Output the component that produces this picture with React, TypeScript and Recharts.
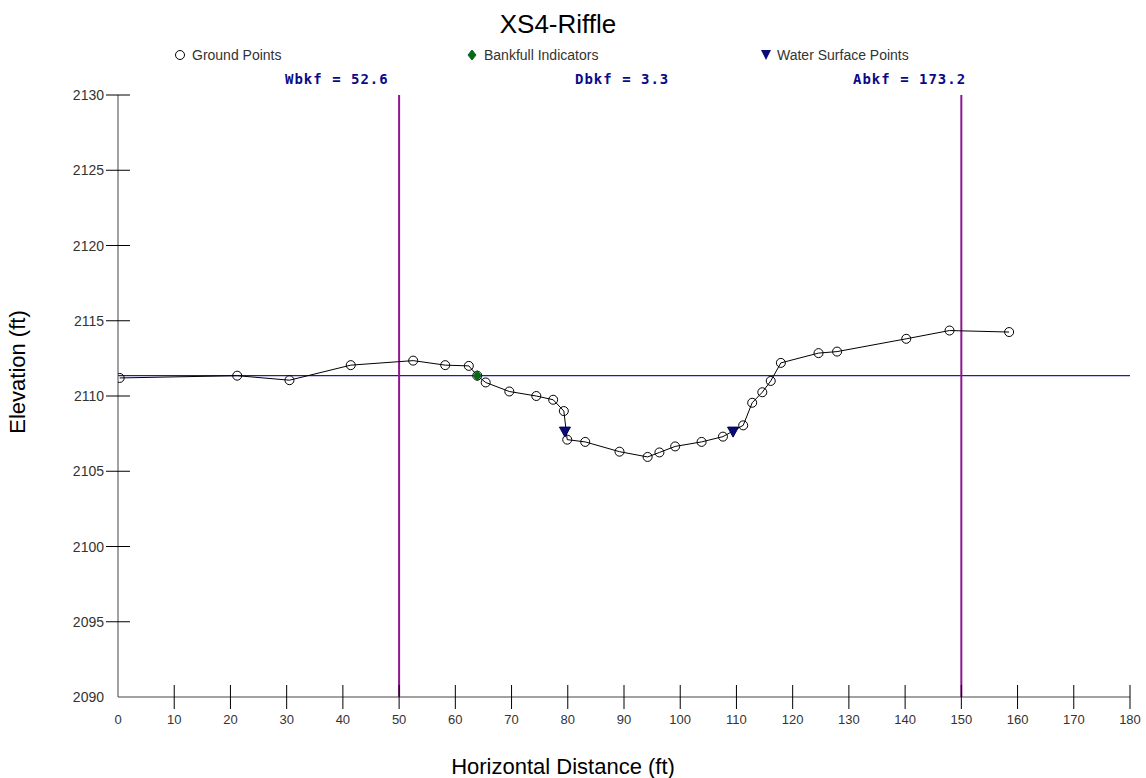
import React from 'react';
import { ComposedChart, Scatter, XAxis, YAxis, ReferenceLine } from 'recharts';

// Surveyed ground profile (station ft, elevation ft)
const groundStations = [0.3, 21.2, 30.5, 41.4, 52.5, 58.2, 62.4, 63.9, 65.4, 69.6, 74.4, 77.4, 79.3, 79.9, 83.1, 89.2, 94.2, 96.3, 99.1, 103.8, 107.6, 111.2, 112.8, 114.6, 116.1, 117.9, 124.6, 127.9, 140.2, 147.9, 158.5];
const groundElevations = [2111.2, 2111.35, 2111.05, 2112.05, 2112.35, 2112.05, 2112.0, 2111.35, 2110.9, 2110.3, 2110.0, 2109.75, 2109.0, 2107.1, 2106.95, 2106.3, 2105.95, 2106.25, 2106.65, 2106.95, 2107.3, 2108.05, 2109.55, 2110.25, 2111.0, 2112.2, 2112.85, 2112.95, 2113.8, 2114.35, 2114.25];

// Bankfull indicator
const bankfullStations = [63.9];
const bankfullElevations = [2111.35];

// Water surface shots
const waterStations = [79.5, 109.4];
const waterElevations = [2107.6, 2107.6];

const bankfullElevation = 2111.35;
const extentLines = [50, 150];

const xTicks = [0, 10, 20, 30, 40, 50, 60, 70, 80, 90, 100, 110, 120, 130, 140, 150, 160, 170, 180];
const yTicks = [2090, 2095, 2100, 2105, 2110, 2115, 2120, 2125, 2130];

const summaryLabels = ['Wbkf = 52.6', 'Dbkf = 3.3', 'Abkf = 173.2'];

const toPoints = (xs: number[], ys: number[]) => xs.map((x, i) => ({ x, y: ys[i] }));
const groundData = toPoints(groundStations, groundElevations);
const bankfullData = toPoints(bankfullStations, bankfullElevations);
const waterData = toPoints(waterStations, waterElevations);

// Layout
const W = 1146;
const H = 778;
const PLOT_LEFT = 118;
const PLOT_RIGHT = 1130;
const PLOT_TOP = 95;
const PLOT_BOTTOM = 697;
const Y_AXIS_W = 60;
const X_AXIS_H = 30;

const FONT = '"Liberation Sans", Arial, sans-serif';
const MONO = '"DejaVu Sans Mono", "Liberation Mono", monospace';
const TEXT = '#333';

// Tick marks cross the axis line; the origin tick is left out
const XTick = (props: any) => {
  const { x, payload, index } = props;
  return (
    <g>
      {index > 0 && (
        <line x1={x} x2={x} y1={PLOT_BOTTOM - 12} y2={PLOT_BOTTOM + 12} stroke="#000" strokeWidth={1} />
      )}
      <text x={x} y={PLOT_BOTTOM + 27} textAnchor="middle" fontFamily={FONT} fontSize={13} fill={TEXT}>
        {payload.value}
      </text>
    </g>
  );
};

const YTick = (props: any) => {
  const { y, payload, index } = props;
  return (
    <g>
      {index > 0 && (
        <line x1={PLOT_LEFT - 12} x2={PLOT_LEFT + 12} y1={y} y2={y} stroke="#000" strokeWidth={1} />
      )}
      <text x={PLOT_LEFT - 14} y={y + 5} textAnchor="end" fontFamily={FONT} fontSize={14} fill={TEXT}>
        {payload.value}
      </text>
    </g>
  );
};

const OpenCircle = (props: any) => (
  <circle cx={props.cx} cy={props.cy} r={4.5} fill="none" stroke="#000" strokeWidth={1} />
);

const Diamond = (props: any) => {
  const { cx, cy } = props;
  const s = 5;
  return <path d={`M${cx},${cy - s} L${cx + s * 0.8},${cy} L${cx},${cy + s} L${cx - s * 0.8},${cy} Z`} fill="#0a6b0a" stroke="#063" strokeWidth={1} />;
};

const DownTriangle = (props: any) => {
  const { cx, cy } = props;
  return <path d={`M${cx - 5.5},${cy - 5} L${cx + 5.5},${cy - 5} L${cx},${cy + 5} Z`} fill="#0a0a78" stroke="#000050" strokeWidth={1} />;
};

export default function App() {
  return (
    <div style={{ position: 'absolute', left: 0, top: 0, width: W, height: H, background: '#fff' }}>
      <ComposedChart
        width={W}
        height={H}
        margin={{ top: PLOT_TOP, right: W - PLOT_RIGHT, bottom: H - PLOT_BOTTOM - X_AXIS_H, left: PLOT_LEFT - Y_AXIS_W }}
      >
        <XAxis
          type="number"
          dataKey="x"
          domain={[0, 180]}
          ticks={xTicks}
          interval={0}
          height={X_AXIS_H}
          axisLine={{ stroke: '#444', strokeWidth: 1 }}
          tickLine={false}
          tick={<XTick />}
          allowDataOverflow
        />
        <YAxis
          type="number"
          dataKey="y"
          domain={[2090, 2130]}
          ticks={yTicks}
          interval={0}
          width={Y_AXIS_W}
          axisLine={{ stroke: '#444', strokeWidth: 1 }}
          tickLine={false}
          tick={<YTick />}
          allowDataOverflow
        />
        <ReferenceLine y={bankfullElevation} stroke="#1c1cb0" strokeWidth={1.2} />
        {extentLines.map((x) => (
          <ReferenceLine key={x} x={x} stroke="#8e168e" strokeWidth={2} />
        ))}
        <Scatter
          data={groundData}
          line={{ stroke: '#000', strokeWidth: 1 }}
          lineType="joint"
          shape={<OpenCircle />}
          isAnimationActive={false}
        />
        <Scatter data={bankfullData} shape={<Diamond />} isAnimationActive={false} />
        <Scatter data={waterData} shape={<DownTriangle />} isAnimationActive={false} />
      </ComposedChart>

      <svg width={W} height={H} style={{ position: 'absolute', left: 0, top: 0, pointerEvents: 'none' }}>
        <text x={558} y={33} textAnchor="middle" fontFamily={FONT} fontSize={26} fill="#000">XS4-Riffle</text>

        <circle cx={180} cy={55} r={4.5} fill="none" stroke="#000" strokeWidth={1} />
        <text x={192} y={60} fontFamily={FONT} fontSize={14} fill={TEXT}>Ground Points</text>

        <path d="M472,50 L476,55 L472,60 L468,55 Z" fill="#0a6b0a" stroke="#063" strokeWidth={1} />
        <text x={484} y={60} fontFamily={FONT} fontSize={14} fill={TEXT}>Bankfull Indicators</text>

        <path d="M761,50 L771,50 L766,60 Z" fill="#0a0a78" />
        <text x={777} y={60} fontFamily={FONT} fontSize={14} fill={TEXT}>Water Surface Points</text>

        <text x={285} y={84} fontFamily={MONO} fontWeight="bold" fontSize={14} letterSpacing={1} fill="#0a0a88">{summaryLabels[0]}</text>
        <text x={575} y={84} fontFamily={MONO} fontWeight="bold" fontSize={14} letterSpacing={1} fill="#0a0a88">{summaryLabels[1]}</text>
        <text x={853} y={84} fontFamily={MONO} fontWeight="bold" fontSize={14} letterSpacing={1} fill="#0a0a88">{summaryLabels[2]}</text>

        <text x={25} y={372} textAnchor="middle" transform="rotate(-90 25 372)" fontFamily={FONT} fontSize={22} fill="#000">Elevation (ft)</text>
        <text x={563} y={774} textAnchor="middle" fontFamily={FONT} fontSize={22} fill="#000">Horizontal Distance (ft)</text>
      </svg>
    </div>
  );
}
